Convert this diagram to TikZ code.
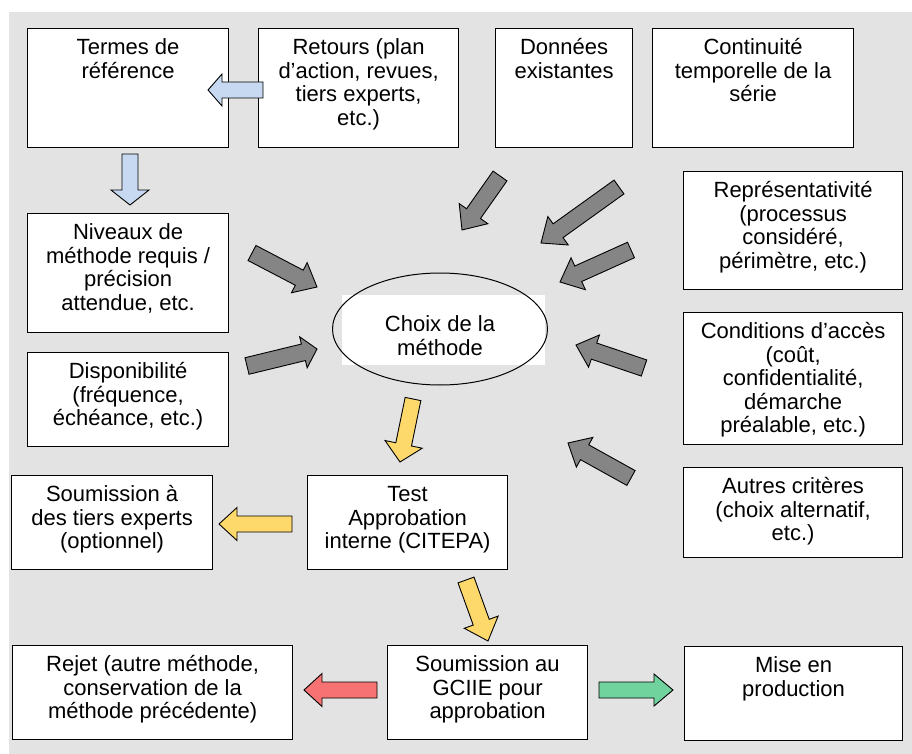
\documentclass[tikz,border=0pt]{standalone}
\usepackage{fontspec}
\setmainfont{Liberation Sans}
\usetikzlibrary{calc,shapes.geometric}

\definecolor{bggray}{HTML}{E3E3E3}
\definecolor{arrblue}{HTML}{C6D9F0}
\definecolor{arrgray}{HTML}{858585}
\definecolor{arryellow}{HTML}{FDD96C}
\definecolor{arrred}{HTML}{F77272}
\definecolor{arrgreen}{HTML}{70D29C}

% strut that fixes the first baseline of every text block
\newcommand\firststrut{\rule{0pt}{16pt}}

% rectangle with its top-aligned, centred text
% #1 name, #2 x, #3 y (top left), #4 width, #5 height, #6 text
\newcommand\textbox[6]{%
  \node[box, minimum width=#4, minimum height=#5] (#1) at (#2,#3) {};
  \node[txt] (#1-t) at ($(#1.north)+(0,10.5)$) {\firststrut#6};
}

% block arrow from a tail coordinate to a tip coordinate
% #1 fill, #2 tail, #3 tip, #4 shaft half-width, #5 head half-width, #6 head length (all in pt)
\newcommand\blockarrow[6]{%
  \coordinate (#2-#3-base) at ($(#3)!#6pt!(#2)$);
  \draw[blk, fill=#1]
    ($(#2)!#4pt!90:(#3)$)
    -- ($(#2-#3-base)!#4pt!-90:(#2)$)
    -- ($(#2-#3-base)!#5pt!-90:(#2)$)
    -- (#3)
    -- ($(#2-#3-base)!#5pt!90:(#2)$)
    -- ($(#2-#3-base)!#4pt!90:(#2)$)
    -- ($(#2)!#4pt!-90:(#3)$)
    -- cycle;
}

\begin{document}
\begin{tikzpicture}[x=1pt, y=-1pt,
  box/.style={draw=black, line width=1.2pt, fill=white, rectangle,
    inner sep=0pt, anchor=north west},
  txt/.style={anchor=north, align=center, inner sep=0pt,
    font=\fontsize{22}{23.5}\selectfont},
  blk/.style={draw=black, line width=0.9pt, line join=miter}]

\useasboundingbox (0,0) rectangle (912,754);
\fill[bggray] (9,12) rectangle (912,754);

% ---- boxes -------------------------------------------------------------
\textbox{termes}{27}{28}{201}{119}{Termes de\\référence}
\textbox{retours}{258}{28}{200}{119}{Retours (plan\\d’action, revues,\\tiers experts,\\etc.)}
\textbox{donnees}{495}{28}{137}{119}{Données\\existantes}
\textbox{continuite}{652}{28}{201}{119}{Continuité\\temporelle de la\\série}
\textbox{niveaux}{27}{213}{201}{119}{Niveaux de\\méthode requis /\\précision\\attendue, etc.}
\textbox{dispo}{27}{352}{201}{94}{Disponibilité\\(fréquence,\\échéance, etc.)}
\textbox{repres}{683}{171}{219}{118}{Représentativité\\(processus\\considéré,\\périmètre, etc.)}
\textbox{conditions}{683}{312}{219}{132}{Conditions d’accès\\(coût,\\confidentialité,\\démarche\\préalable, etc.)}
\textbox{autres}{683}{467}{219}{90}{Autres critères\\(choix alternatif,\\etc.)}
\textbox{soumtiers}{11}{475}{201}{94}{Soumission à\\des tiers experts\\(optionnel)}
\textbox{test}{307}{475}{200}{94}{Test\\Approbation\\interne (CITEPA)}
\textbox{rejet}{12}{645}{280}{94}{Rejet (autre méthode,\\conservation de la\\méthode précédente)}
\textbox{gciie}{387}{645}{200}{94}{Soumission au\\GCIIE pour\\approbation}
\textbox{mise}{684}{646}{218}{94}{Mise en\\production}

% ---- central ellipse ---------------------------------------------------
\node[fill=white, inner sep=0pt, minimum width=203, minimum height=70] (choix-bg) at (443.5,330) {};
\node[draw=black, line width=1pt, ellipse,
  minimum width=215, minimum height=112, inner sep=0pt] (choix) at (440,329) {};
\node[txt] (choix-t) at (440,315.5) {\firststrut Choix de la\\méthode};

% ---- arrow end points ---------------------------------------------------
\coordinate (retours-out) at (263,90);     \coordinate (termes-in) at (208,90);
\coordinate (termes-out) at (130,154);     \coordinate (niveaux-in) at (130,205);
\coordinate (niveaux-out) at (252,253);    \coordinate (choix-in1) at (317,287);
\coordinate (dispo-out) at (247,366);      \coordinate (choix-in2) at (317,349);
\coordinate (donnees-out) at (500,176);    \coordinate (choix-in3) at (462,230);
\coordinate (continuite-out) at (619,187); \coordinate (choix-in4) at (541,243);
\coordinate (repres-out) at (631,250);     \coordinate (choix-in5) at (560,282);
\coordinate (conditions-out) at (644,368); \coordinate (choix-in6) at (576,345);
\coordinate (autres-out) at (631,478);     \coordinate (choix-in7) at (568,443);
\coordinate (choix-out) at (413,399);      \coordinate (test-in) at (400,462);
\coordinate (test-out1) at (292,524);      \coordinate (soumtiers-in) at (219,524);
\coordinate (test-out2) at (466,580);      \coordinate (gciie-in) at (488,641);
\coordinate (gciie-out1) at (377,690);     \coordinate (rejet-in) at (304,690);
\coordinate (gciie-out2) at (599,690);     \coordinate (mise-in) at (673,690);

% ---- block arrows -------------------------------------------------------
\blockarrow{arrblue}{retours-out}{termes-in}{8}{16}{14}
\blockarrow{arrblue}{termes-out}{niveaux-in}{8}{19}{15}

\blockarrow{arrgray}{niveaux-out}{choix-in1}{8.5}{17}{20}
\blockarrow{arrgray}{dispo-out}{choix-in2}{8.5}{16}{14}
\blockarrow{arrgray}{donnees-out}{choix-in3}{8.5}{17.5}{20}
\blockarrow{arrgray}{continuite-out}{choix-in4}{8.5}{17.5}{21}
\blockarrow{arrgray}{repres-out}{choix-in5}{8.5}{17.5}{20}
\blockarrow{arrgray}{conditions-out}{choix-in6}{8.5}{17}{19}
\blockarrow{arrgray}{autres-out}{choix-in7}{8.5}{17}{19}

\blockarrow{arryellow}{choix-out}{test-in}{8}{19}{18}
\blockarrow{arryellow}{test-out1}{soumtiers-in}{8}{16.5}{18}
\blockarrow{arryellow}{test-out2}{gciie-in}{8.5}{18}{20}
\blockarrow{arrred}{gciie-out1}{rejet-in}{8}{16.5}{18}
\blockarrow{arrgreen}{gciie-out2}{mise-in}{8}{16}{19}

\end{tikzpicture}
\end{document}
